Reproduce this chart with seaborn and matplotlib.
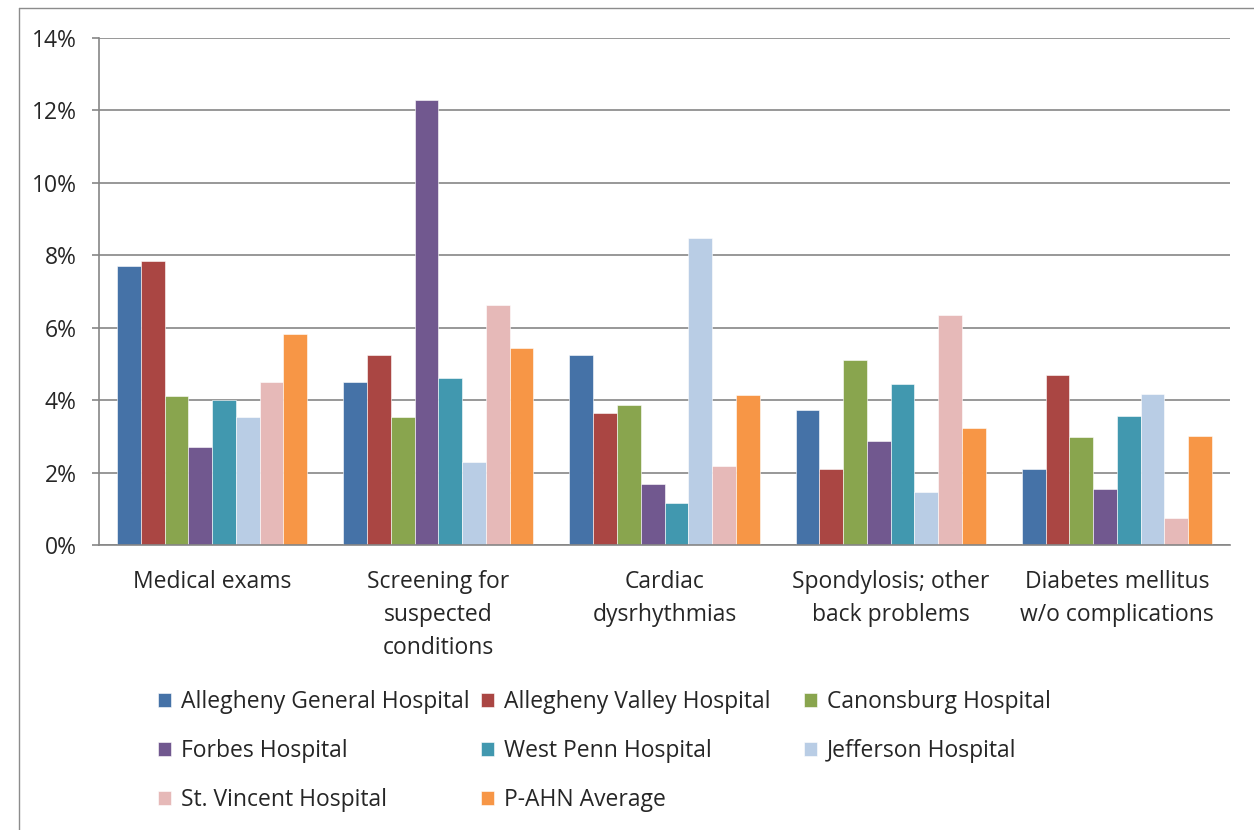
import seaborn as sns
import pandas as pd
import matplotlib.pyplot as plt
from matplotlib.lines import Line2D

# data (percent of discharges)
diagnoses = ["Medical exams",
             "Screening for\nsuspected\nconditions",
             "Cardiac\ndysrhythmias",
             "Spondylosis; other\nback problems",
             "Diabetes mellitus\nw/o complications"]
hospitals = ["Allegheny General Hospital", "Allegheny Valley Hospital",
             "Canonsburg Hospital", "Forbes Hospital", "West Penn Hospital",
             "Jefferson Hospital", "St. Vincent Hospital", "P-AHN Average"]

allegheny_general = [7.71, 4.51, 5.26, 3.73, 2.09]
allegheny_valley = [7.84, 5.24, 3.65, 2.09, 4.69]
canonsburg = [4.12, 3.53, 3.86, 5.11, 2.98]
forbes = [2.70, 12.29, 1.68, 2.88, 1.56]
west_penn = [4.00, 4.62, 1.17, 4.44, 3.55]
jefferson = [3.53, 2.29, 8.49, 1.47, 4.17]
st_vincent = [4.51, 6.64, 2.18, 6.34, 0.75]
pahn_avg = [5.83, 5.43, 4.15, 3.22, 3.02]

series = [allegheny_general, allegheny_valley, canonsburg, forbes,
          west_penn, jefferson, st_vincent, pahn_avg]

colors = ["#4572A7", "#AA4643", "#89A54E", "#71588F",
          "#4198AF", "#B9CDE5", "#E6B9B8", "#F79646"]

rows = []
for h, vals in zip(hospitals, series):
    for d, v in zip(diagnoses, vals):
        rows.append({"diagnosis": d, "hospital": h, "share": v})
df = pd.DataFrame(rows)

sns.set_style("white")
plt.rcParams['font.family'] = ['Open Sans', 'DejaVu Sans']
fs = 16.5

fig = plt.figure(figsize=(12.54, 8.3), dpi=100)
ax = fig.add_axes([99 / 1254, 1 - 545 / 830, (1230 - 99) / 1254, 507 / 830])

sns.barplot(data=df, x="diagnosis", y="share", hue="hospital",
            order=diagnoses, hue_order=hospitals, palette=colors,
            width=0.84, gap=0, saturation=1, errorbar=None,
            edgecolor="white", linewidth=0.4, ax=ax)

grid_c = "#868686"
ax.set_xlim(-0.5, len(diagnoses) - 0.5)
ax.set_ylim(0, 14)
ax.set_yticks(range(0, 15, 2))
ax.set_yticklabels([f"{v}%" for v in range(0, 15, 2)])
ax.yaxis.grid(True, color=grid_c, lw=1.2)
ax.set_axisbelow(True)
ax.set_xlabel("")
ax.set_ylabel("")

for s in ["top", "right"]:
    ax.spines[s].set_visible(False)
for s in ["left", "bottom"]:
    ax.spines[s].set_color(grid_c)
    ax.spines[s].set_linewidth(1.2)

ax.set_xticks(range(len(diagnoses)))
ax.set_xticks([i - 0.5 for i in range(len(diagnoses) + 1)], minor=True)
ax.tick_params(axis="x", which="major", length=0, pad=18, labelsize=fs)
ax.tick_params(axis="x", which="minor", length=6, width=1.2, color=grid_c)
ax.tick_params(axis="y", length=5, width=1.2, color=grid_c, pad=11,
               labelsize=fs, left=True)
for t in ax.get_xticklabels():
    t.set_linespacing(1.5)

# legend: three equal-width columns, filled row by row
handles, labels = ax.get_legend_handles_labels()
ax.legend_.remove()
col_x = [158, 481, 804]
for c, x in enumerate(col_x):
    idx = list(range(c, len(handles), 3))
    fig.legend([handles[i] for i in idx], [labels[i] for i in idx],
               loc="upper left", bbox_to_anchor=(x / 1254, 1 - 690 / 830),
               frameon=False, fontsize=fs, handlelength=0.55,
               handleheight=0.55, handletextpad=0.45, labelspacing=1.1,
               borderpad=0, borderaxespad=0)

# outer frame of the exported chart object (cut off at right and bottom)
fx, fy = 18.5 / 1254, 1 - 8.5 / 830
fig.add_artist(Line2D([fx, fx], [0, fy], transform=fig.transFigure,
                      color="#8c8c8c", lw=1))
fig.add_artist(Line2D([fx, 1], [fy, fy], transform=fig.transFigure,
                      color="#8c8c8c", lw=1))

fig.savefig("out.png", dpi=100)
